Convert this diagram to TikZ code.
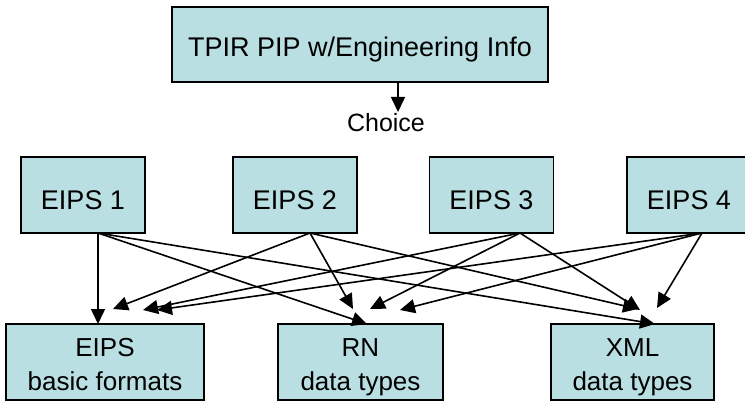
\documentclass[tikz,border=0pt]{standalone}
\usepackage{fontspec}
\setmainfont{Liberation Sans}
\usetikzlibrary{arrows.meta,calc}
\definecolor{boxfill}{RGB}{185,223,226}
\begin{document}
\begin{tikzpicture}[x=1pt,y=-1pt,
  box/.style={draw=black,line width=1.7pt,fill=boxfill,inner sep=0pt},
  topbox/.style={box,minimum width=124pt,minimum height=76pt,font=\fontsize{27}{30}\selectfont,text height=30pt,text depth=0pt},
  botbox/.style={box,minimum height=76pt,align=center,font=\fontsize{26}{30}\selectfont,text height=56pt,text depth=0pt},
  conn/.style={line width=1.6pt,-{Triangle[length=15pt,width=14pt]}}]
\useasboundingbox (0,0) rectangle (745,401);
% top box
\node[box,minimum width=376pt,minimum height=75pt,font=\fontsize{27}{30}\selectfont,text height=24.6pt,text depth=0pt] (tpir) at (360,44.5) {TPIR PIP w/Engineering Info};
\coordinate (tpirout) at (398,82);
\node[anchor=base,inner sep=0pt,font=\fontsize{25}{28}\selectfont] (choice) at (386,132) {Choice};
\draw[conn] (tpirout) -- (tpirout |- 0,112);
% EIPS row
\node[topbox] (e1) at (83,195) {EIPS 1};
\node[topbox] (e2) at (295,195) {EIPS 2};
\node[topbox] (e3) at (491.5,195) {EIPS 3};
\node[topbox] (e4) at (689,195) {EIPS 4};
% bottom row
\node[botbox,minimum width=198pt] (basic) at (105,362) {EIPS\\[4pt]basic formats};
\node[botbox,minimum width=165pt] (rn) at (360.5,362) {RN\\[4pt]data types};
\node[botbox,minimum width=163pt] (xml) at (632.5,362) {XML\\[4pt]data types};
% start points
\coordinate (s1) at (98,233);
\coordinate (s2) at (310,233);
\coordinate (s3) at (520,233);
\coordinate (s4) at (702,233);
% end points
\coordinate (t1b) at (98,324);
\coordinate (t1r) at (367,324);
\coordinate (t1x) at (655,324);
\coordinate (t2b) at (113,309);
\coordinate (t2r) at (353,309);
\coordinate (t2x) at (638,309);
\coordinate (t3b) at (143,310);
\coordinate (t3r) at (370,309);
\coordinate (t3x) at (640,310);
\coordinate (t4b) at (157,310);
\coordinate (t4r) at (400,310);
\coordinate (t4x) at (657,308);
\foreach \s in {1,2,3,4}{
  \foreach \t in {b,r,x}{
    \draw[conn] (s\s) -- (t\s\t);
  }
}
\end{tikzpicture}
\end{document}
